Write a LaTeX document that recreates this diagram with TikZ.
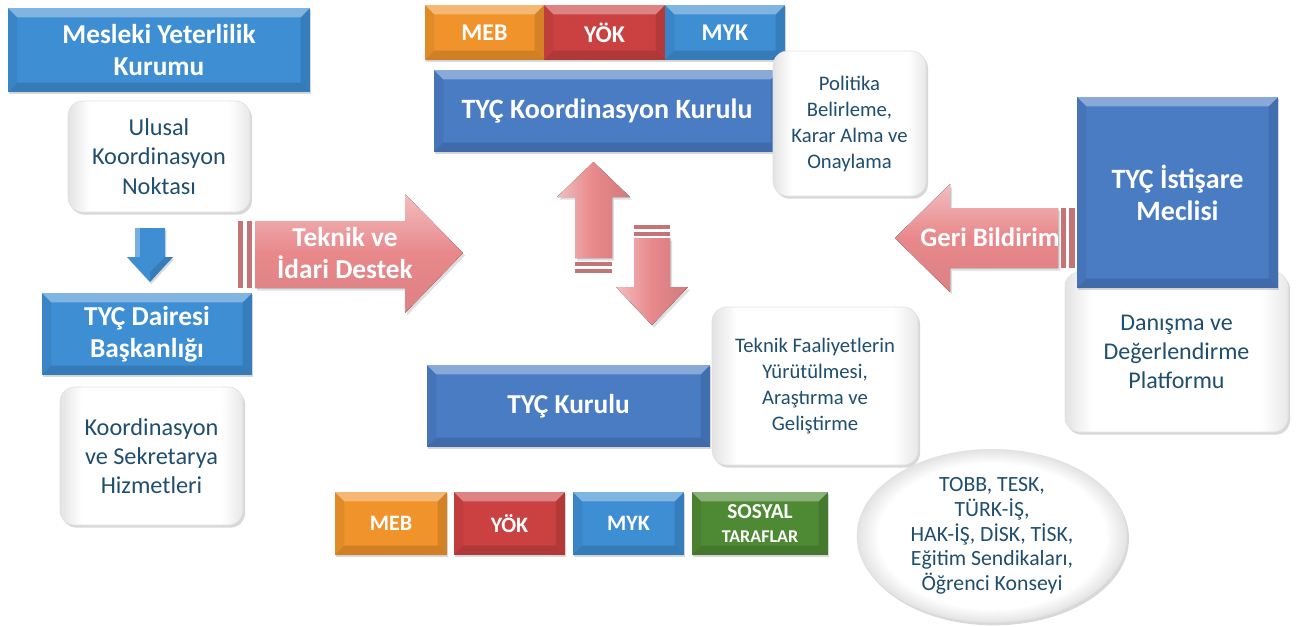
\documentclass[tikz,border=0pt]{standalone}
\usepackage{fontspec}
\setmainfont{Carlito}
\usetikzlibrary{shadows,shapes.geometric,calc}
\definecolor{lblue}{HTML}{3D8ED3}
\definecolor{mblue}{HTML}{4A7CC4}
\definecolor{orng}{HTML}{F0932B}
\definecolor{rd}{HTML}{CB4141}
\definecolor{grn}{HTML}{4E8A34}
\definecolor{pnk}{HTML}{E8888B}
\definecolor{tdark}{HTML}{1F4E6E}
\pgfdeclarehorizontalshading{wsh}{100bp}{color(0bp)=(black!11); color(25bp)=(black!11);
  color(31bp)=(white); color(69bp)=(white); color(75bp)=(black!9); color(100bp)=(black!9)}
\pgfdeclareradialshading{esh}{\pgfpoint{0bp}{0bp}}{color(0bp)=(white); color(21bp)=(white);
  color(25bp)=(black!11); color(50bp)=(black!11)}
\tikzset{
  bevel/.style={path picture={
    \path (path picture bounding box.north west) coordinate (P1)
          (path picture bounding box.north east) coordinate (P2)
          (path picture bounding box.south east) coordinate (P3)
          (path picture bounding box.south west) coordinate (P4);
    \path (P1) ++(#1,-#1) coordinate (Q1) (P2) ++(-#1,-#1) coordinate (Q2)
          (P3) ++(-#1,#1) coordinate (Q3) (P4) ++(#1,#1) coordinate (Q4);
    \fill[white,opacity=.35] (P1)--(P2)--(Q2)--(Q1)--cycle;
    \fill[black,opacity=.13] (P4)--(P3)--(Q3)--(Q4)--cycle;
    \fill[black,opacity=.06] (P1)--(Q1)--(Q4)--(P4)--cycle;
    \fill[black,opacity=.11] (P2)--(Q2)--(Q3)--(P3)--cycle;
  }},
  blk/.style={draw=none, text=white, font=\bfseries, align=center, inner sep=0pt,
    bevel=7pt, drop shadow={shadow xshift=1pt,shadow yshift=-1.5pt,opacity=.3}},
  wbox/.style={rounded corners=11pt, draw=black!12, shading=wsh, text=tdark, align=center, inner sep=0pt,
    drop shadow={shadow xshift=1.5pt,shadow yshift=-2pt,opacity=.3}},
  parr/.style={top color=pnk!55!white, bottom color=pnk!95!black, middle color=pnk,
    drop shadow={shadow xshift=1.5pt,shadow yshift=-2pt,opacity=.25}},
  varr/.style={left color=pnk!55!white, right color=pnk!90!black, middle color=pnk,
    drop shadow={shadow xshift=1.5pt,shadow yshift=-2pt,opacity=.25}},
  pbar/.style={fill=pnk!85!black},
  atext/.style={text=white, font=\bfseries\fontsize{20.5}{24}\selectfont, align=center, inner sep=0pt},
}
\begin{document}
\begin{tikzpicture}[x=0.75pt,y=-0.75pt]
\fill[white] (0,0) rectangle (1303,626);
\useasboundingbox (0,0) rectangle (1303,626);

% left column
\node[blk, fill=lblue, minimum width=226.5pt, minimum height=63pt,
  font=\bfseries\fontsize{20.5}{23.5}\selectfont] (myk) at (159,50) {Mesleki Yeterlilik\\Kurumu};
\node[wbox, minimum width=136.5pt, minimum height=83.25pt,
  font=\fontsize{18.2}{22}\selectfont] (ukn) at (159,156.5) {Ulusal\\Koordinasyon\\Noktası};
\fill[lblue, drop shadow={shadow xshift=1pt,shadow yshift=-1.5pt,opacity=.3}]
  (135,228) -- (165,228) -- (165,257) -- (173,257) -- (150,282) -- (127,257) -- (135,257) -- cycle;
\fill[white,opacity=.3] (135,228) -- (140,228) -- (140,257) -- (135,257) -- cycle;
\fill[black,opacity=.12] (150,282) -- (173,257) -- (165,257) -- (150,272) -- cycle;
\node[blk, fill=lblue, minimum width=157.5pt, minimum height=61.5pt,
  font=\bfseries\fontsize{20.5}{24}\selectfont] (tdb) at (147,334) {TYÇ Dairesi\\Başkanlığı};
\node[wbox, minimum width=137.25pt, minimum height=103.5pt,
  font=\fontsize{18.2}{22}\selectfont] (ksh) at (151.5,456) {Koordinasyon\\ve Sekretarya\\Hizmetleri};

% Teknik ve Idari Destek arrow
\fill[parr] (255,221) -- (405,221) -- (405,194) -- (463,253) -- (405,313) -- (405,288) -- (255,288) -- cycle;
\fill[pbar] (238,221) rectangle (243,288);
\fill[pbar] (247,221) rectangle (252,288);
\node[atext] (tid) at (345,253) {Teknik ve\\İdari Destek};

% top row
\node[blk, fill=orng, minimum width=89.25pt, minimum height=41.25pt,
  font=\bfseries\fontsize{18}{20}\selectfont] (meb1) at (484.5,32.5) {MEB};
\node[blk, fill=rd, minimum width=90.75pt, minimum height=41.25pt,
  font=\bfseries\fontsize{18}{20}\selectfont] (yok1) at (604.5,32.5) {YÖK};
\node[blk, fill=lblue, minimum width=90pt, minimum height=41.25pt,
  font=\bfseries\fontsize{18}{20}\selectfont] (myk1) at (725,32.5) {MYK};
\node[blk, fill=mblue, minimum width=259.5pt, minimum height=61.5pt,
  font=\bfseries\fontsize{21}{24}\selectfont] (tkk) at (607,111) {TYÇ Koordinasyon Kurulu};
\node[wbox, minimum width=114.75pt, minimum height=108.75pt,
  font=\fontsize{15.5}{19.5}\selectfont] (pol) at (849.5,123.5) {Politika\\Belirleme,\\Karar Alma ve\\Onaylama};

% up / down arrows
\fill[varr] (575,258) -- (575,197) -- (557,197) -- (593.5,162) -- (630,197) -- (612,197) -- (612,258) -- cycle;
\fill[pbar] (575,262) rectangle (612,266);
\fill[pbar] (575,269) rectangle (612,273);
\fill[pbar] (634,225) rectangle (670,228.5);
\fill[pbar] (634,232) rectangle (670,235.5);
\fill[varr] (634,238) -- (670,238) -- (670,287) -- (688,287) -- (652,325) -- (616,287) -- (634,287) -- cycle;

% TYC Kurulu
\node[blk, fill=mblue, minimum width=212.25pt, minimum height=61.5pt,
  font=\bfseries\fontsize{20.5}{24}\selectfont] (tk) at (568.5,406) {TYÇ Kurulu};
\node[wbox, minimum width=154.5pt, minimum height=118.5pt,
  font=\fontsize{15.5}{19.5}\selectfont] (tfa) at (815,386) {Teknik Faaliyetlerin\\Yürütülmesi,\\Araştırma ve\\Geliştirme};

% bottom row
\node[blk, fill=orng, minimum width=84pt, minimum height=47.25pt,
  font=\bfseries\fontsize{16.5}{20}\selectfont] (meb2) at (391,523.5) {MEB};
\node[blk, fill=rd, minimum width=83.25pt, minimum height=47.25pt,
  font=\bfseries\fontsize{16.5}{20}\selectfont] (yok2) at (509.5,523.5) {YÖK};
\node[blk, fill=lblue, minimum width=83.25pt, minimum height=47.25pt,
  font=\bfseries\fontsize{16.5}{20}\selectfont] (myk2) at (628.5,523.5) {MYK};
\node[blk, fill=grn, minimum width=102pt, minimum height=47.25pt,
  font=\bfseries\fontsize{16}{17.5}\selectfont] (sos) at (760,523.5)
  {SOSYAL\\{\fontsize{13.5}{15}\selectfont TARAFLAR}};
\node[ellipse, draw=black!12, shading=esh, text=tdark, align=center,
  inner sep=0pt, minimum width=202.5pt, minimum height=130pt,
  drop shadow={shadow xshift=1.5pt,shadow yshift=-2pt,opacity=.3},
  font=\fontsize{16.3}{18.5}\selectfont] (sosy) at (992,536)
  {TOBB, TESK,\\TÜRK-İŞ,\\HAK-İŞ, DİSK, TİSK,\\Eğitim Sendikaları,\\Öğrenci Konseyi};

% right column
\node[wbox, minimum width=167.25pt, minimum height=120pt,
  font=\fontsize{18}{22}\selectfont] (dan) at (1176.5,352) {Danışma ve\\Değerlendirme\\Platformu};
\node[blk, fill=mblue, minimum width=150.75pt, minimum height=143.25pt,
  font=\bfseries\fontsize{21}{24}\selectfont] (ist) at (1177.5,192.5) {TYÇ İstişare\\Meclisi};

% Geri Bildirim arrow
\fill[parr] (1058,208) -- (950,208) -- (950,184) -- (895,238) -- (950,292) -- (950,268) -- (1058,268) -- cycle;
\fill[pbar] (1061,208) rectangle (1066,268);
\fill[pbar] (1069,208) rectangle (1075,268);
\node[atext, font=\bfseries\fontsize{20}{24}\selectfont] (geri) at (990,237) {Geri Bildirim};
\end{tikzpicture}
\end{document}
